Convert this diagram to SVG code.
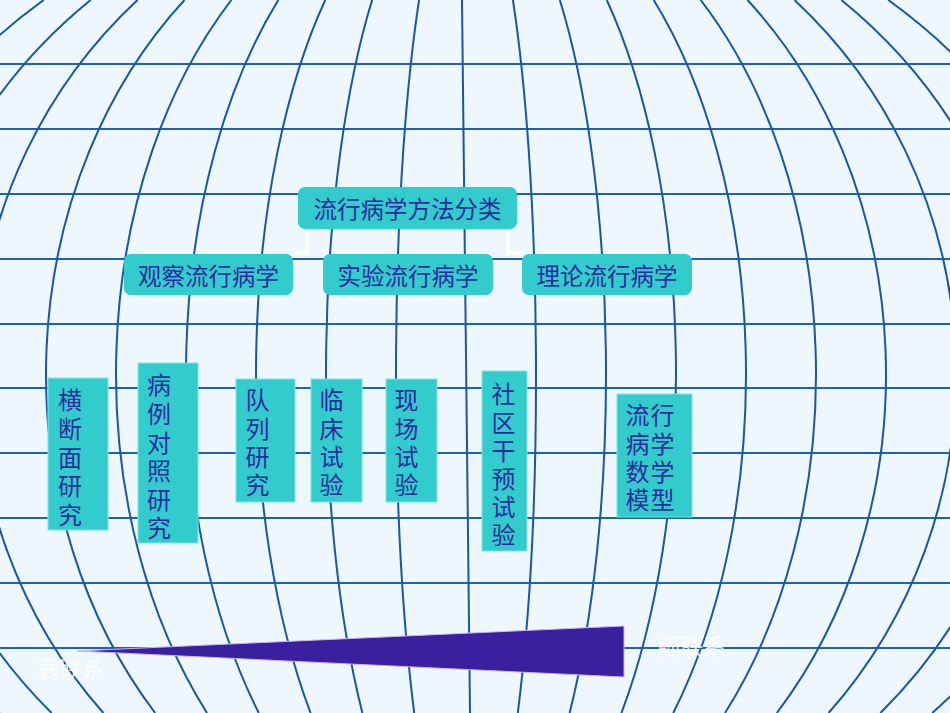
<svg xmlns="http://www.w3.org/2000/svg" width="950" height="713" viewBox="0 0 950 713">
<style>
.bg{fill:#eef7fd}
.h{stroke:#1e62b6;stroke-width:2;fill:none}
.m{stroke:#1757a6;stroke-width:2;fill:none}
.l2{fill:#33cccc}
.leaf{fill:#33cccc;stroke:#7ee3e3;stroke-width:1}
.t{font-family:"Noto Sans CJK SC","Noto Sans",sans-serif;fill:#2b2b9e;font-size:23.5px}
.lt{font-size:24px}
.conn{stroke:#ffffff;stroke-width:4;fill:none}
.lbl{font-family:"Noto Sans CJK SC","Noto Sans",sans-serif;fill:#ffffff;font-size:22.5px;opacity:0.85}
</style>
<rect class="bg" x="0" y="0" width="950" height="713"/>
<g id="grid">
<path class="h" d="M0 64H950M0 129H950M0 194H950M0 259H950M0 324H950M0 388H950M0 453H950M0 518H950M0 583H950M0 648H950"/>
<path class="m" d="M462 0L470 713"/>
<path class="m" d="M419.08 0A70 504 0 0 0 414.2 713"/>
<path class="m" d="M372.16 0A140 504 0 0 0 362.4 713"/>
<path class="m" d="M325.24 0A210 504 0 0 0 310.6 713"/>
<path class="m" d="M278.32 0A280 504 0 0 0 258.8 713"/>
<path class="m" d="M231.39 0A350 504 0 0 0 207 713"/>
<path class="m" d="M184.47 0A420 504 0 0 0 155.2 713"/>
<path class="m" d="M137.55 0A490 504 0 0 0 103.4 713"/>
<path class="m" d="M90.63 0A560 504 0 0 0 51.6 713"/>
<path class="m" d="M43.71 0A630 504 0 0 0 -0.2 713"/>
<path class="m" d="M512.92 0A70 504 0 0 1 517.8 713"/>
<path class="m" d="M559.84 0A140 504 0 0 1 569.6 713"/>
<path class="m" d="M606.76 0A210 504 0 0 1 621.4 713"/>
<path class="m" d="M653.68 0A280 504 0 0 1 673.2 713"/>
<path class="m" d="M700.61 0A350 504 0 0 1 725 713"/>
<path class="m" d="M747.53 0A420 504 0 0 1 776.8 713"/>
<path class="m" d="M794.45 0A490 504 0 0 1 828.6 713"/>
<path class="m" d="M841.37 0A560 504 0 0 1 880.4 713"/>
<path class="m" d="M888.29 0A630 504 0 0 1 932.2 713"/>
</g>
<g id="connectors">
<path class="conn" d="M307 229V253H293"/>
<path class="conn" d="M508 229V253H522"/>
</g>
<g id="root">
<rect class="l2" x="298" y="187" width="219" height="42" rx="7"/>
<text class="t" x="407.5" y="208" text-anchor="middle" dominant-baseline="central">流行病学方法分类</text>
</g>
<g id="observational">
<rect class="l2" x="124" y="254" width="169" height="41" rx="7"/>
<text class="t" x="208.5" y="274.5" text-anchor="middle" dominant-baseline="central">观察流行病学</text>
</g>
<g id="experimental">
<rect class="l2" x="323" y="254" width="170" height="41" rx="7"/>
<text class="t" x="408" y="274.5" text-anchor="middle" dominant-baseline="central">实验流行病学</text>
</g>
<g id="theoretical">
<rect class="l2" x="522" y="254" width="170" height="41" rx="7"/>
<text class="t" x="607" y="274.5" text-anchor="middle" dominant-baseline="central">理论流行病学</text>
</g>
<g id="cross-sectional">
<rect class="leaf" x="48" y="378" width="60" height="152"/>
<text class="t lt" text-anchor="middle" dominant-baseline="central"><tspan x="70" y="398">横</tspan><tspan x="70" y="427">断</tspan><tspan x="70" y="456">面</tspan><tspan x="70" y="484">研</tspan><tspan x="70" y="513">究</tspan></text>
</g>
<g id="case-control">
<rect class="leaf" x="138" y="363" width="60" height="180"/>
<text class="t lt" text-anchor="middle" dominant-baseline="central"><tspan x="159" y="383">病</tspan><tspan x="159" y="412">例</tspan><tspan x="159" y="441">对</tspan><tspan x="159" y="469">照</tspan><tspan x="159" y="498">研</tspan><tspan x="159" y="526">究</tspan></text>
</g>
<g id="cohort">
<rect class="leaf" x="236" y="379" width="59" height="123"/>
<text class="t lt" text-anchor="middle" dominant-baseline="central"><tspan x="257.5" y="398">队</tspan><tspan x="257.5" y="427">列</tspan><tspan x="257.5" y="455">研</tspan><tspan x="257.5" y="483">究</tspan></text>
</g>
<g id="clinical-trial">
<rect class="leaf" x="311" y="379" width="51" height="123"/>
<text class="t lt" text-anchor="middle" dominant-baseline="central"><tspan x="331.5" y="398">临</tspan><tspan x="331.5" y="427">床</tspan><tspan x="331.5" y="455">试</tspan><tspan x="331.5" y="483">验</tspan></text>
</g>
<g id="field-trial">
<rect class="leaf" x="386" y="379" width="51" height="123"/>
<text class="t lt" text-anchor="middle" dominant-baseline="central"><tspan x="406.5" y="398">现</tspan><tspan x="406.5" y="427">场</tspan><tspan x="406.5" y="455">试</tspan><tspan x="406.5" y="483">验</tspan></text>
</g>
<g id="community-trial">
<rect class="leaf" x="482" y="371" width="45" height="180"/>
<text class="t lt" text-anchor="middle" dominant-baseline="central"><tspan x="503.5" y="392">社</tspan><tspan x="503.5" y="421">区</tspan><tspan x="503.5" y="449">干</tspan><tspan x="503.5" y="477">预</tspan><tspan x="503.5" y="505">试</tspan><tspan x="503.5" y="533">验</tspan></text>
</g>
<g id="math-model">
<rect class="leaf" x="617" y="394" width="75" height="123"/>
<text class="t lt" dominant-baseline="central" letter-spacing="1"><tspan x="625.5" y="413">流行</tspan><tspan x="625.5" y="442">病学</tspan><tspan x="625.5" y="470">数学</tspan><tspan x="625.5" y="498">模型</tspan></text>
</g>
<g id="strength-wedge">
<polygon points="77,651 624,626 624,677" fill="#3a1f9e" stroke="#c9b8f2" stroke-width="1"/>
<text class="lbl" x="37" y="668" dominant-baseline="central">弱联系</text>
<text class="lbl" x="658" y="645" dominant-baseline="central">强联系</text>
</g>
</svg>
